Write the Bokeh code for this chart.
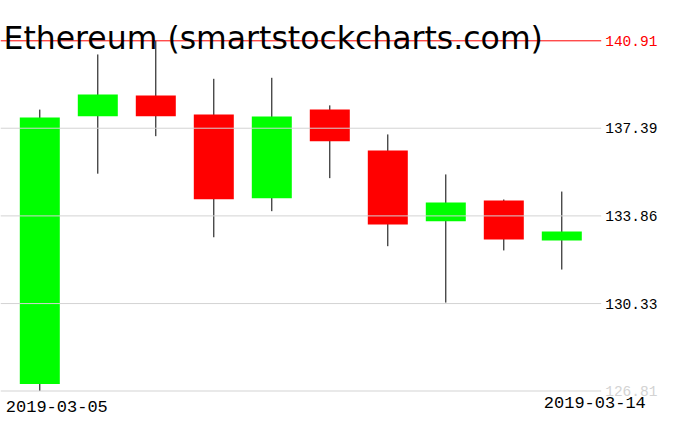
from bokeh.plotting import figure
from bokeh.models import ColumnDataSource, Range1d, Label
from bokeh.core.properties import value
from bokeh.embed import file_html
from bokeh.resources import INLINE

title_text = "Ethereum (smartstockcharts.com)"
dates = ["2019-03-05", "2019-03-06", "2019-03-07", "2019-03-08", "2019-03-09",
         "2019-03-10", "2019-03-11", "2019-03-12", "2019-03-13", "2019-03-14"]
opens = [127.09, 137.87, 138.71, 137.94, 134.57, 138.14, 136.49, 133.64, 134.48, 132.87]
highs = [138.14, 140.36, 140.91, 139.38, 139.42, 138.31, 137.14, 135.53, 134.52, 134.84]
lows = [126.81, 135.56, 137.07, 133.00, 134.05, 135.38, 132.64, 130.37, 132.47, 131.70]
closes = [137.82, 138.75, 137.87, 134.53, 137.86, 136.87, 133.51, 134.40, 132.91, 133.23]

tick_values = [126.81, 130.33, 133.86, 137.39, 140.91]
tick_labels = ["126.81", "130.33", "133.86", "137.39", "140.91"]
tick_colors = ["#d3d3d3", "black", "black", "black", "#ff0000"]
grid_colors = ["#d3d3d3", "#d3d3d3", "#d3d3d3", "#d3d3d3", "#ff0000"]

UP = "#00ff00"
DOWN = "#ff0000"

# layout (pixels)
W, H = 660, 415
PX_X = 58.0            # pixels per candle slot
FIRST_X = 39.3         # pixel x of first candle
GRID_END_PX = 600.7    # pixel x where grid lines end
TOP_PX, BOT_PX = 40.3, 390.5   # pixel y of max high / min low

ymin, ymax = min(lows), max(highs)
py = (BOT_PX - TOP_PX) / (ymax - ymin)
x_start = -FIRST_X / PX_X
x_end = x_start + W / PX_X
grid_end = x_start + GRID_END_PX / PX_X
y_start = ymin - (H - BOT_PX) / py
y_end = ymax + TOP_PX / py

idx = list(range(len(dates)))
source = ColumnDataSource(dict(
    x=idx,
    high=highs,
    low=lows,
    top=[max(o, c) for o, c in zip(opens, closes)],
    bottom=[min(o, c) for o, c in zip(opens, closes)],
    color=[UP if c >= o else DOWN for o, c in zip(opens, closes)],
))
grid_src = ColumnDataSource(dict(
    y=tick_values, label=tick_labels, tcolor=tick_colors, gcolor=grid_colors,
    x0=[x_start] * len(tick_values), x1=[grid_end] * len(tick_values),
))

p = figure(width=W, height=H, output_backend="svg", toolbar_location=None,
           x_axis_type=None, y_axis_type=None,
           x_range=Range1d(x_start, x_end), y_range=Range1d(y_start, y_end),
           min_border=0)
p.outline_line_color = None
p.background_fill_color = "white"
p.border_fill_color = "white"
p.grid.visible = False

p.segment(x0="x", y0="low", x1="x", y1="high", source=source,
          line_color="black", line_width=1)
p.vbar(x="x", width=40 / PX_X, top="top", bottom="bottom", source=source,
       fill_color="color", line_color=None)
p.segment(x0="x0", y0="y", x1="x1", y1="y", source=grid_src,
          line_color="gcolor", line_width=1)
p.text(x="x1", y="y", text="label", source=grid_src, text_color="tcolor",
       x_offset=4, text_font=value("Liberation Mono"), text_font_size="14.5px",
       text_baseline="alphabetic", text_align="left")

p.add_layout(Label(x=3, x_units="screen", y=ymax, y_units="data", y_offset=3,
                   text=title_text,
                   text_font="'DejaVu Sans ExtraLight', 'DejaVu Sans'",
                   text_font_size="31.5px",
                   text_color="black", text_baseline="alphabetic", text_align="left"))

p.add_layout(Label(x=idx[0], y=ymin, x_offset=-34, y_offset=-15,
                   text=dates[0], text_font="Liberation Mono", text_font_size="17px",
                   text_color="black", text_baseline="alphabetic", text_align="left"))
p.add_layout(Label(x=idx[-1], y=ymin, x_offset=84, y_offset=-11,
                   text=dates[-1], text_font="Liberation Mono", text_font_size="17px",
                   text_color="black", text_baseline="alphabetic", text_align="right"))

open("out.html", "w").write(file_html(p, INLINE))
